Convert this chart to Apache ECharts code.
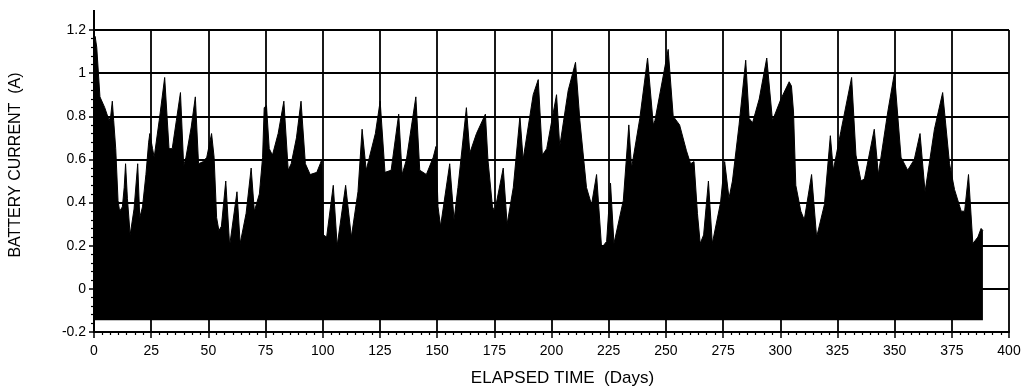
<!DOCTYPE html>
<html>
<head>
<meta charset="utf-8">
<script src="https://cdn.jsdelivr.net/npm/echarts@6/dist/echarts.min.js"></script>
<style>
  html, body { margin: 0; padding: 0; background: #fff; }
  #chart { width: 1025px; height: 392px; }
</style>
</head>
<body>
<div id="chart"></div>
<script>
// Elapsed time (days) at envelope vertices
const days = [
  0, 0.5, 1.2, 2.6, 4.7, 6.6, 7.3, 8.0, 8.6, 9.5, 10.5, 11.2, 12.4, 13.2, 13.8, 14.6, 15.8, 17.5, 19.1, 20.0,
  21.2, 22.7, 23.9, 24.4, 25.6, 26.3, 28.5, 30.9, 32.8, 34.2, 36.0, 37.8, 39.2, 40.2, 42.5, 44.3, 45.7, 47.8, 49.3, 51.4,
  52.5, 53.6, 54.6, 55.7, 57.6, 59.3, 62.5, 63.9, 66.5, 68.7, 70.1, 72.3, 73.7, 74.4, 75.4, 76.6, 78.0, 80.5, 83.0, 84.9,
  86.2, 88.5, 90.5, 92.4, 94.5, 97.4, 98.9, 99.6, 100.3, 101.7, 104.6, 106.3, 110.0, 112.5, 115.4, 117.2, 119.0, 120.4, 123.0, 125.1,
  127.2, 129.9, 133.2, 134.7, 136.6, 140.7, 142.4, 145.3, 148.3, 149.5, 150.4, 151.5, 155.5, 157.4, 159.1, 162.8, 164.3, 167.2, 171.1, 172.2,
  174.2, 175.2, 178.9, 180.6, 183.3, 186.2, 187.6, 192.0, 194.2, 196.0, 197.9, 202.2, 203.6, 207.3, 210.5, 212.4, 215.3, 217.5, 219.7, 221.9,
  224.1, 225.8, 227.3, 231.4, 233.8, 235.0, 238.6, 242.0, 244.5, 245.2, 251.0, 253.2, 256.0, 259.0, 260.8, 262.3, 263.8, 265.0, 266.5, 268.6,
  270.3, 273.9, 275.7, 277.6, 279.1, 282.0, 284.9, 286.4, 287.9, 290.8, 294.1, 296.6, 300.3, 303.9, 304.9, 305.8, 306.8, 309.0, 310.5, 313.7,
  315.9, 319.3, 321.9, 323.2, 326.5, 331.2, 333.1, 335.3, 336.8, 341.1, 342.9, 347.0, 349.9, 352.8, 355.7, 358.6, 361.1, 363.3, 367.4, 371.0,
  374.0, 376.2, 379.1, 380.6, 382.3, 384.2, 386.4, 387.8, 388.6
];
// Upper envelope of battery current (A)
const currents = [
  1.15, 1.17, 1.12, 0.89, 0.84, 0.78, 0.80, 0.87, 0.78, 0.65, 0.41, 0.36, 0.38, 0.47, 0.58, 0.42, 0.25, 0.37, 0.58, 0.33,
  0.38, 0.53, 0.68, 0.72, 0.65, 0.61, 0.78, 0.98, 0.65, 0.65, 0.78, 0.91, 0.57, 0.61, 0.75, 0.89, 0.58, 0.59, 0.61, 0.72,
  0.61, 0.33, 0.27, 0.29, 0.50, 0.20, 0.45, 0.21, 0.35, 0.56, 0.36, 0.44, 0.61, 0.84, 0.85, 0.65, 0.62, 0.72, 0.87, 0.55,
  0.58, 0.70, 0.87, 0.58, 0.53, 0.54, 0.58, 0.60, 0.25, 0.24, 0.48, 0.20, 0.48, 0.24, 0.45, 0.74, 0.55, 0.61, 0.72, 0.87,
  0.54, 0.55, 0.81, 0.53, 0.60, 0.89, 0.55, 0.53, 0.61, 0.66, 0.38, 0.29, 0.58, 0.32, 0.47, 0.84, 0.63, 0.72, 0.81, 0.60,
  0.38, 0.36, 0.56, 0.30, 0.47, 0.80, 0.60, 0.90, 0.97, 0.62, 0.65, 0.90, 0.66, 0.92, 1.05, 0.78, 0.47, 0.39, 0.53, 0.19,
  0.22, 0.49, 0.21, 0.41, 0.76, 0.56, 0.79, 1.07, 0.76, 0.78, 1.11, 0.80, 0.76, 0.64, 0.58, 0.59, 0.35, 0.21, 0.25, 0.50,
  0.21, 0.40, 0.59, 0.42, 0.50, 0.76, 1.06, 0.79, 0.77, 0.88, 1.07, 0.78, 0.88, 0.96, 0.94, 0.82, 0.48, 0.36, 0.32, 0.53,
  0.24, 0.39, 0.71, 0.55, 0.73, 0.98, 0.62, 0.50, 0.51, 0.74, 0.53, 0.82, 1.00, 0.61, 0.55, 0.60, 0.72, 0.45, 0.74, 0.91,
  0.58, 0.46, 0.36, 0.36, 0.53, 0.21, 0.24, 0.28, 0.27
];
// Lower envelope (discharge floor) of battery current (A)
const minCurrent = -0.145;

const xTicks = { min: 0, max: 400, interval: 25 };
const yTicks = { min: -0.2, max: 1.2, interval: 0.2 };

const FONT = 'Liberation Sans';
const chart = echarts.init(document.getElementById('chart'), null, { renderer: 'canvas' });

const seriesData = days.map((d, i) => [d, currents[i]]);

chart.setOption({
  animation: false,
  backgroundColor: '#fff',
  grid: { left: 94, right: 16, top: 30, bottom: 58, containLabel: false },
  xAxis: {
    type: 'value',
    min: xTicks.min, max: xTicks.max, interval: xTicks.interval,
    name: 'ELAPSED TIME  (Days)',
    nameLocation: 'middle',
    nameGap: 38,
    nameTextStyle: { fontFamily: FONT, fontSize: 17, color: '#000', padding: [0, 0, 0, 22] },
    axisLine: { show: true, onZero: false, lineStyle: { color: '#000', width: 2 } },
    axisTick: { show: true, inside: false, length: 6, lineStyle: { color: '#000', width: 1.5 } },
    minorTick: { show: true, splitNumber: 7, length: 3, lineStyle: { color: '#000', width: 1.2 } },
    axisLabel: { fontFamily: FONT, fontSize: 14, color: '#000', margin: 12 },
    splitLine: { show: true, lineStyle: { color: '#000', width: 1.8 } }
  },
  yAxis: {
    type: 'value',
    min: yTicks.min, max: yTicks.max, interval: yTicks.interval,
    name: 'BATTERY CURRENT  (A)',
    nameLocation: 'middle',
    nameGap: 70,
    nameRotate: 90,
    nameTextStyle: { fontFamily: FONT, fontSize: 16, color: '#000', padding: [0, 0, 0, 32] },
    axisLine: { show: true, onZero: false, lineStyle: { color: '#000', width: 2 } },
    axisTick: { show: true, inside: false, length: 5, lineStyle: { color: '#000', width: 1.5 } },
    minorTick: { show: true, splitNumber: 5, length: 3, lineStyle: { color: '#000', width: 1.2 } },
    axisLabel: {
      fontFamily: FONT, fontSize: 14, color: '#000', margin: 8,
      formatter: v => String(Math.round(v * 10) / 10)
    },
    splitLine: { show: true, lineStyle: { color: '#000', width: 1.8 } }
  },
  series: [{
    type: 'line',
    data: seriesData,
    showSymbol: false,
    smooth: false,
    lineStyle: { color: '#000', width: 1 },
    areaStyle: { color: '#000', opacity: 1, origin: minCurrent },
    z: 3
  }]
});

// extend the y axis line a little above the top gridline, as in the original plot
const axisTop = chart.convertToPixel({ gridIndex: 0 }, [xTicks.min, yTicks.max]);
chart.setOption({
  graphic: [{
    type: 'line',
    shape: { x1: axisTop[0], y1: axisTop[1], x2: axisTop[0], y2: axisTop[1] - 20 },
    style: { stroke: '#000', lineWidth: 2 },
    z: 10
  }]
});
</script>
</body>
</html>
